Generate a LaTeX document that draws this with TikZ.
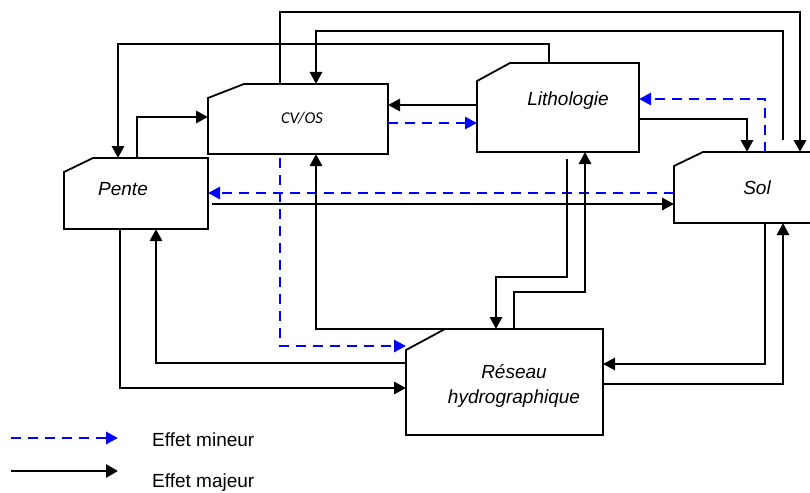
\documentclass[tikz,border=0pt]{standalone}
\usepackage{fontspec}
\setmainfont{Liberation Sans}
\newfontfamily\cvfont{Carlito}
\usetikzlibrary{arrows.meta}
\definecolor{minblue}{RGB}{0,0,255}
\newcommand\mycutbox[3]{\draw[boxline] ([yshift=-#3]#1.north west) -- ([xshift=#2]#1.north west) -- (#1.north east) -- (#1.south east) -- (#1.south west) -- cycle;}
\begin{document}
\begin{tikzpicture}[x=1pt,y=-1pt,
  boxanchor/.style={draw=none,inner sep=0pt,outer sep=0pt,rectangle},
  boxline/.style={draw=black,line width=1.8pt,line join=miter},
  major/.style={draw=black,line width=2.9pt,-{Triangle[length=12pt,width=12pt]}},
  minor/.style={draw=minblue,line width=2.9pt,dash pattern=on 10pt off 7pt,-{Triangle[length=12pt,width=12pt]}},
  lbl/.style={font=\fontsize{19}{23}\selectfont\itshape,inner sep=0pt,anchor=base},
  leg/.style={font=\fontsize{19}{23}\selectfont,inner sep=0pt,anchor=base west},
]
\useasboundingbox (0,0) rectangle (810,492);
\clip (0,0) rectangle (810,492);

% boxes
\node[boxanchor,minimum width=144pt,minimum height=71pt] (pente) at (136,193.5) {};
\node[boxanchor,minimum width=180pt,minimum height=70pt] (cv) at (298,119) {};
\node[boxanchor,minimum width=162pt,minimum height=89pt] (lith) at (558,107.5) {};
\node[boxanchor,minimum width=137pt,minimum height=71pt] (sol) at (742.5,187.5) {};
\node[boxanchor,minimum width=197pt,minimum height=106pt] (res) at (504.5,382) {};
\mycutbox{pente}{29pt}{14pt}
\mycutbox{cv}{36pt}{14pt}
\mycutbox{lith}{33pt}{18pt}
\mycutbox{sol}{29pt}{14pt}
\mycutbox{res}{39pt}{21pt}

% labels
\node[lbl] (tpente) at (123,195) {Pente};
\node[lbl,font=\cvfont\fontsize{16.5}{20}\selectfont\itshape] (tcv) at (302,123) {CV/OS};
\node[lbl] (tlith) at (568,106) {Lithologie};
\node[lbl] (tsol) at (757,194) {Sol};
\node[lbl] (tres1) at (514,378) {Réseau};
\node[lbl] (tres2) at (514,403) {hydrographique};

% connectors
\draw[major] (280,0 |- cv.north) -- (280,12) -- (800,12) -- (800,0 |- sol.north);
\draw[major] ([yshift=12pt]sol.north -| 783,0) -- (783,31) -- (316,31) -- (316,0 |- cv.north);
\draw[major] (549,0 |- lith.north) -- (549,44) -- (118,44) -- (118,0 |- pente.north);
\draw[major] (137,0 |- pente.north) -- (137,117) -- (cv.west |- 0,117);
\draw[major] (lith.west |- 0,105) -- (cv.east |- 0,105);
\draw[minor] (cv.east |- 0,123) -- (lith.west |- 0,123);
\draw[minor] (sol.west |- 0,193) -- (pente.east |- 0,193);
\draw[major] ([xshift=4pt]pente.east |- 0,204) -- (sol.west |- 0,204);
\draw[minor] ([yshift=-4pt]280,0 |- cv.south) -- (280,346) -- (res.west |- 0,346);
\draw[major] (460,0 |- res.north) -- (316,329) -- (316,0 |- cv.south);
\draw[major] (120,0 |- pente.south) -- (120,388) -- (res.west |- 0,388);
\draw[major] (res.west |- 0,363) -- (156,363) -- (156,0 |- pente.south);
\draw[major] (lith.east |- 0,119) -- (747,119) -- (747,0 |- sol.north);
\draw[minor] (765,0 |- sol.north) -- (765,99) -- (lith.east |- 0,99);
\draw[major] ([yshift=-7pt]567,0 |- lith.south) -- (567,277) -- (496,277) -- (496,0 |- res.north);
\draw[major] (514,0 |- res.north) -- (514,292) -- (585,292) -- (585,0 |- lith.south);
\draw[major] (765,0 |- sol.south) -- (765,364) -- (res.east |- 0,364);
\draw[major] (res.east |- 0,384) -- (783,384) -- (783,0 |- sol.south);

% legend
\coordinate (l1a) at (11,438);
\coordinate (l1b) at (118,438);
\coordinate (l2a) at (11,471);
\coordinate (l2b) at (118,471);
\draw[minor,-{Triangle[length=12pt,width=12pt]}] (l1a) -- (l1b);
\draw[major,-{Triangle[length=12pt,width=13pt]}] (l2a) -- (l2b);
\node[leg] (tmin) at (152,446) {Effet mineur};
\node[leg] (tmaj) at (152,487) {Effet majeur};
\end{tikzpicture}
\end{document}
